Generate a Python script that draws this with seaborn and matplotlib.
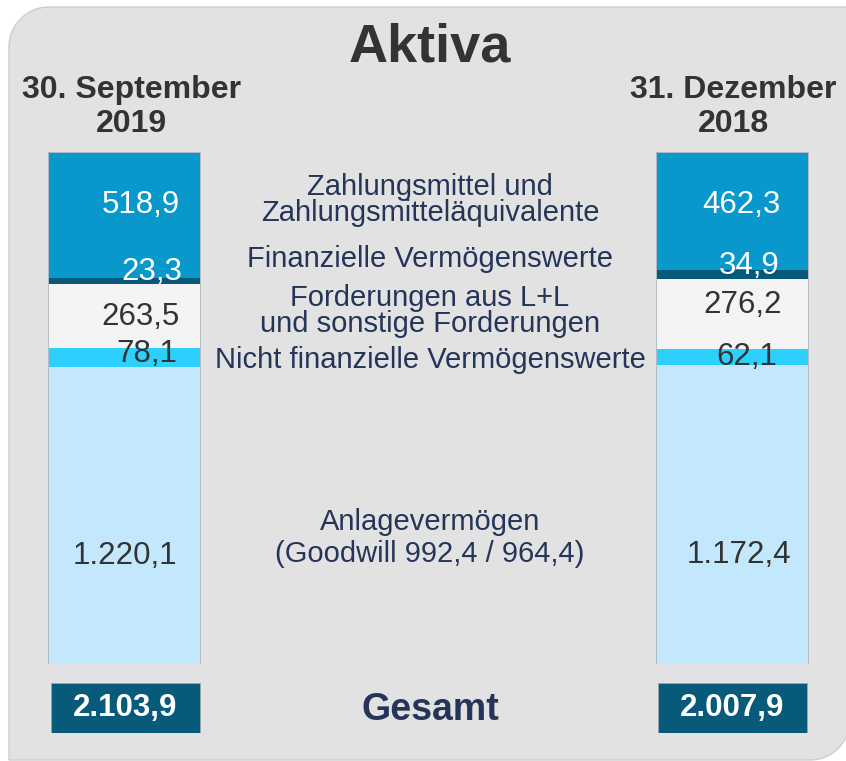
import numpy as np
import pandas as pd
import seaborn as sns
import matplotlib
matplotlib.use("Agg")
import matplotlib.pyplot as plt
from matplotlib.path import Path
from matplotlib.patches import PathPatch
import matplotlib.transforms as mtransforms

# ---------------- data ----------------
title = "Aktiva"
periods = ["30. September\n2019", "31. Dezember\n2018"]
categories = [
    "Zahlungsmittel und\nZahlungsmitteläquivalente",
    "Finanzielle Vermögenswerte",
    "Forderungen aus L+L\nund sonstige Forderungen",
    "Nicht finanzielle Vermögenswerte",
    "Anlagevermögen\n(Goodwill 992,4 / 964,4)",
]
values_2019 = [518.9, 23.3, 263.5, 78.1, 1220.1]
values_2018 = [462.3, 34.9, 276.2, 62.1, 1172.4]
labels_2019 = ["518,9", "23,3", "263,5", "78,1", "1.220,1"]
labels_2018 = ["462,3", "34,9", "276,2", "62,1", "1.172,4"]
totals = [2103.9, 2007.9]
total_labels = ["2.103,9", "2.007,9"]
total_caption = "Gesamt"

# ---------------- style ----------------
seg_colors = ["#0898cb", "#07597a", "#f4f4f4", "#2dd0fd", "#c3e7fd"]
num_colors = ["white", "white", "#333333", "#333333", "#333333"]
label_nudge_px = [[-10, -9, 1, -3.5, 40], [-6, -8, -9, 0, 40]]
label_right_px = [[56, 58, 56, 53, 53], [48.5, 48.5, 50.5, 45.5, 59.5]]
cat_label_y_px = [200, 259, 311, 360, 538]
cat_linespacing = [0.9, 1.0, 0.93, 1.0, 1.17]
navy = "#253559"
dark = "#333333"
W, H, DPI = 846, 761, 100

sns.set_theme(style="white")
plt.rcParams["font.family"] = ["Liberation Sans", "DejaVu Sans"]

fig = plt.figure(figsize=(W / DPI, H / DPI), dpi=DPI)
fig.patch.set_facecolor("white")

def fx(x):
    return x / W

def fy(y):
    return 1 - y / H

# background shape: rounded top-left and bottom-right corners
L, T, R, B, r = 9, 7, 850, 760, 40
k = 0.5523 * r
pts = [
    (L + r, T), (R, T), (R, B - r),
    (R, B - r + k), (R - r + k, B), (R - r, B),
    (L, B), (L, T + r),
    (L, T + r - k), (L + r - k, T), (L + r, T),
]
codes = [Path.MOVETO, Path.LINETO, Path.LINETO,
         Path.CURVE4, Path.CURVE4, Path.CURVE4,
         Path.LINETO, Path.LINETO,
         Path.CURVE4, Path.CURVE4, Path.CURVE4]
bg_path = Path([(fx(x), fy(y)) for x, y in pts], codes)
fig.patches.append(PathPatch(bg_path, transform=fig.transFigure,
                             facecolor="#e2e2e2", edgecolor="#cdcdcd",
                             linewidth=1.0, zorder=-5))

# ---------------- bars ----------------
bar_top, bar_bot = 152, 664
c0, c1 = 124, 731.5
span = c1 - c0
ax = fig.add_axes([0, fy(bar_bot), 1, (bar_bot - bar_top) / H])
ax.set_facecolor("none")

rows = []
for p, vals, tot in zip(periods, [values_2019, values_2018], totals):
    vals = np.array(vals)
    shares = vals / vals.sum()
    cum = np.cumsum(shares)
    for cat, s, c in zip(categories, shares, cum):
        rows.append({"period": p, "category": cat, "share": s, "cum": c})
df = pd.DataFrame(rows)

# draw cumulative bars from the bottom-most segment up (axis inverted)
for i in range(len(categories) - 1, -1, -1):
    sub = df[df["category"] == categories[i]]
    sns.barplot(data=sub, x="period", y="cum", order=periods, color=seg_colors[i],
                saturation=1, width=152 / span, errorbar=None, ax=ax,
                edgecolor="none", linewidth=0)
# thin outline around each whole bar
sub = df[df["category"] == categories[-1]]
sns.barplot(data=sub, x="period", y="cum", order=periods, fill=False,
            width=152 / span, errorbar=None, ax=ax,
            edgecolor="#b5bcc0", linewidth=0.7)

ax.set_xlim(-c0 / span, (W - c0) / span)
ax.set_ylim(1, 0)
ax.axis("off")

for pi, (p, labs) in enumerate(zip(periods, [labels_2019, labels_2018])):
    sub = df[df["period"] == p].reset_index(drop=True)
    for ci in range(len(categories)):
        center = sub.loc[ci, "cum"] - sub.loc[ci, "share"] / 2
        tr = mtransforms.offset_copy(ax.transData, fig=fig,
                                     x=label_right_px[pi][ci] * 72 / DPI,
                                     y=-label_nudge_px[pi][ci] * 72 / DPI, units="points")
        ax.text(pi, center, labs[ci], transform=tr, ha="right",
                va="center", fontsize=22.5, color=num_colors[ci])

# category labels in the middle
for cat, y, ls in zip(categories, cat_label_y_px, cat_linespacing):
    fig.text(fx(430), fy(y), cat, ha="center", va="center", fontsize=21,
             color=navy, linespacing=ls)

# ---------------- totals ----------------
ax2 = fig.add_axes([0, fy(733), 1, 50 / H])
ax2.set_facecolor("none")
tdf = pd.DataFrame({"period": periods, "box": [1, 1]})
sns.barplot(data=tdf, x="period", y="box", order=periods, color="#075a7a",
            saturation=1, width=149 / span, errorbar=None, ax=ax2,
            edgecolor="#9aa7ad", linewidth=0.6)
ax2.set_xlim(-c0 / span - 1 / span, (W - c0) / span - 1 / span)
ax2.set_ylim(0, 1)
ax2.axis("off")
for i, t in enumerate(total_labels):
    ax2.text(i, 0.5, t, ha="center", va="center", fontsize=22.5,
             fontweight="bold", color="white")
fig.text(fx(430), fy(710), total_caption, ha="center", va="center",
         fontsize=27, fontweight="bold", color=navy)

# ---------------- headers ----------------
fig.text(fx(430), fy(47), title, ha="center", va="center", fontsize=39,
         fontweight="bold", color=dark)
fig.text(fx(131), fy(107), periods[0], ha="center", va="center", fontsize=23,
         fontweight="bold", color=dark, linespacing=1.2)
fig.text(fx(733), fy(107), periods[1], ha="center", va="center", fontsize=23,
         fontweight="bold", color=dark, linespacing=1.2)

fig.savefig("out.png", dpi=DPI, facecolor=fig.get_facecolor())
